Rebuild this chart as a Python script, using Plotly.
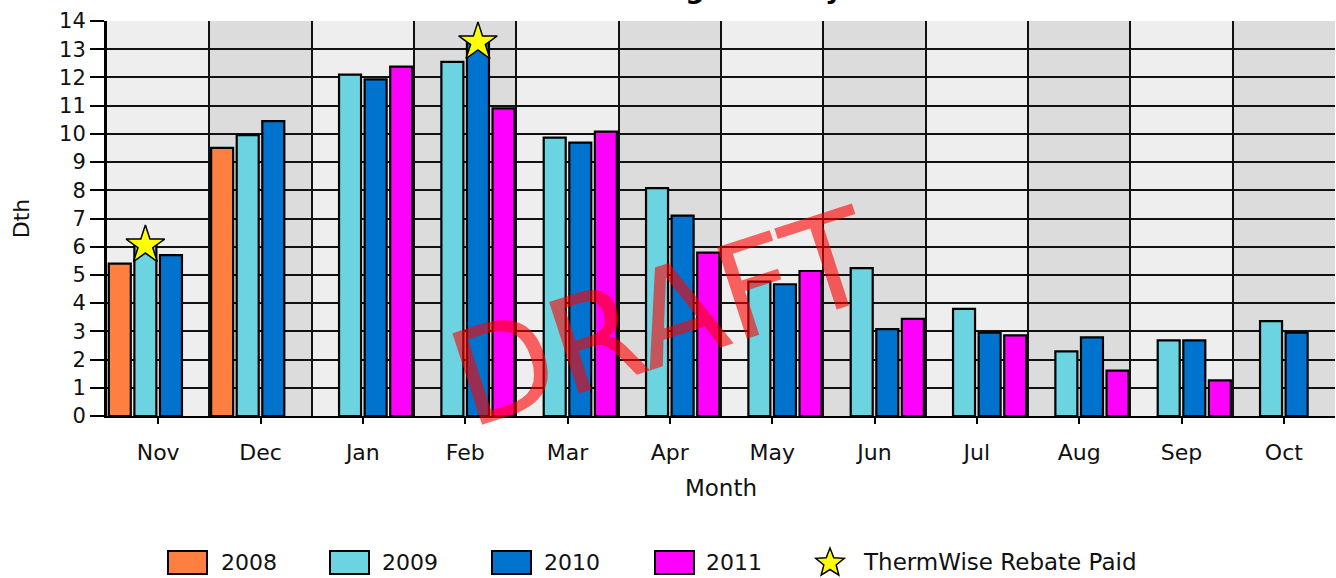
import plotly.graph_objects as go
import math

# ---------------- data ----------------
months = ["Nov", "Dec", "Jan", "Feb", "Mar", "Apr", "May", "Jun", "Jul", "Aug", "Sep", "Oct"]
years = ["2008", "2009", "2010", "2011"]
usage_2008 = [5.4, 9.5, None, None, None, None, None, None, None, None, None, None]
usage_2009 = [6.05, 9.95, 12.1, 12.55, 9.87, 8.08, 4.76, 5.24, 3.8, 2.29, 2.68, 3.36]
usage_2010 = [5.7, 10.45, 11.93, 13.25, 9.69, 7.1, 4.67, 3.08, 2.95, 2.79, 2.68, 2.95]
usage_2011 = [None, None, 12.38, 10.9, 10.08, 5.79, 5.14, 3.44, 2.86, 1.61, 1.26, None]
rebate_months = ["Nov", "Feb"]
rebate_years = ["2009", "2010"]
y_ticks = list(range(0, 15))

series = {"2008": usage_2008, "2009": usage_2009, "2010": usage_2010, "2011": usage_2011}
colors = {"2008": "#FF7F40", "2009": "#6BD4E0", "2010": "#0073CF", "2011": "#FF00FF"}

W, H = 1336, 578
ML, MR, MT, MB = 107, 1, 21, 162
PW, PH = W - ML - MR, H - MT - MB
FONT = "DejaVu Sans"
TXT = "#111111"


def px(xp):
    return (xp - ML) / PW


def py(yp):
    return (H - MB - yp) / PH


fig = go.Figure()
xi = list(range(len(months)))
for yr in years:
    fig.add_trace(go.Bar(
        x=xi, y=series[yr], name=yr, showlegend=False,
        marker=dict(color=colors[yr], line=dict(color="black", width=2.2)),
    ))

# rebate stars, placed on the grouped-bar slot of the matching year
n = len(years)
star_x = [months.index(m) - 0.5 + (years.index(yr) + 0.5) / n for m, yr in zip(rebate_months, rebate_years)]
star_y = [series[yr][months.index(m)] for m, yr in zip(rebate_months, rebate_years)]
fig.add_trace(go.Scatter(
    x=star_x, y=star_y, mode="markers", name="ThermWise Rebate Paid", showlegend=False,
    cliponaxis=False,
    marker=dict(symbol="star", size=29, color="#FFFF00", line=dict(color="black", width=1.5)),
))

# alternating month bands
shapes = []
for i in range(len(months)):
    if i % 2 == 1:
        shapes.append(dict(type="rect", xref="x", yref="paper", x0=i - 0.5, x1=i + 0.5, y0=0, y1=1,
                           fillcolor="#DCDCDC", line=dict(width=0), layer="below"))

# manual legend
annotations = []
leg_y0, leg_y1 = 551, 574
leg_items = [(168, 219), (330, 380), (492, 542), (655, 704)]
LEGF = 22
for yr, (sx, tx) in zip(years, leg_items):
    shapes.append(dict(type="rect", xref="paper", yref="paper", x0=px(sx), x1=px(sx + 39),
                       y0=py(leg_y1), y1=py(leg_y0), fillcolor=colors[yr],
                       line=dict(color="black", width=2)))
    annotations.append(dict(xref="paper", yref="paper", x=px(tx), y=py(562), text=yr,
                            showarrow=False, xanchor="left", yanchor="middle",
                            font=dict(family=FONT, size=LEGF, color=TXT)))
annotations.append(dict(xref="paper", yref="paper", x=px(861), y=py(562), text="ThermWise Rebate Paid",
                        showarrow=False, xanchor="left", yanchor="middle",
                        font=dict(family=FONT, size=LEGF + 1, color=TXT)))
# legend star icon (path shape)
cx, cy, ro, ri = 830, 563, 15, 6.5
pts = []
for k in range(10):
    ang = math.pi / 2 + k * math.pi / 5
    r = ro if k % 2 == 0 else ri
    pts.append((px(cx + r * math.cos(ang)), py(cy - r * math.sin(ang))))
path = "M " + " L ".join(f"{a:.5f},{b:.5f}" for a, b in pts) + " Z"
shapes.append(dict(type="path", xref="paper", yref="paper", path=path, fillcolor="#FFFF00",
                   line=dict(color="black", width=1.5)))

# title (mostly cut off at the top edge, as in the reference)
annotations.append(dict(xref="paper", yref="paper", x=px(641), y=py(-12), text="<b>Natural Gas Usage History</b>",
                        showarrow=False, xanchor="center", yanchor="middle",
                        font=dict(family=FONT, size=27, color="black")))
# DRAFT watermark
annotations.append(dict(xref="paper", yref="paper", x=px(662), y=py(318), text="DRAFT",
                        showarrow=False, xanchor="center", yanchor="middle", textangle=-18,
                        font=dict(family=FONT, size=132, color="rgba(255,0,0,0.6)")))

fig.update_layout(
    width=W, height=H,
    margin=dict(l=ML, r=MR, t=MT, b=MB, pad=0),
    paper_bgcolor="white", plot_bgcolor="#EEEEEE",
    barmode="group", bargap=0, bargroupgap=0.14,
    shapes=shapes, annotations=annotations,
    showlegend=False,
    font=dict(family=FONT, color=TXT),
    xaxis=dict(
        range=[-0.5, len(months) - 0.5], tickmode="array", tickvals=xi, ticktext=months,
        showgrid=False, zeroline=False,
        ticks="outside", ticklen=6, tickwidth=2, tickcolor="black",
        tickfont=dict(size=22, family=FONT, color=TXT), ticklabelstandoff=10,
        showline=True, linecolor="black", linewidth=2,
        minor=dict(tickmode="linear", tick0=0.5, dtick=1, showgrid=True, gridcolor="#111111", gridwidth=2, ticks=""),
        title=dict(text="Month", font=dict(size=23, family=FONT, color=TXT), standoff=15),
    ),
    yaxis=dict(
        range=[0, 14], tickmode="array", tickvals=y_ticks,
        showgrid=True, gridcolor="#111111", gridwidth=2, zeroline=False,
        ticks="outside", ticklen=14, tickwidth=2, tickcolor="black",
        tickfont=dict(size=21, family=FONT, color=TXT),
        showline=True, linecolor="black", linewidth=3,
        title=dict(text="Dth", font=dict(size=22, family=FONT, color=TXT), standoff=24),
    ),
)

fig.write_html("out.html", config={"displayModeBar": False},
               post_script="document.body.style.margin='0px';document.body.style.overflow='hidden';")
